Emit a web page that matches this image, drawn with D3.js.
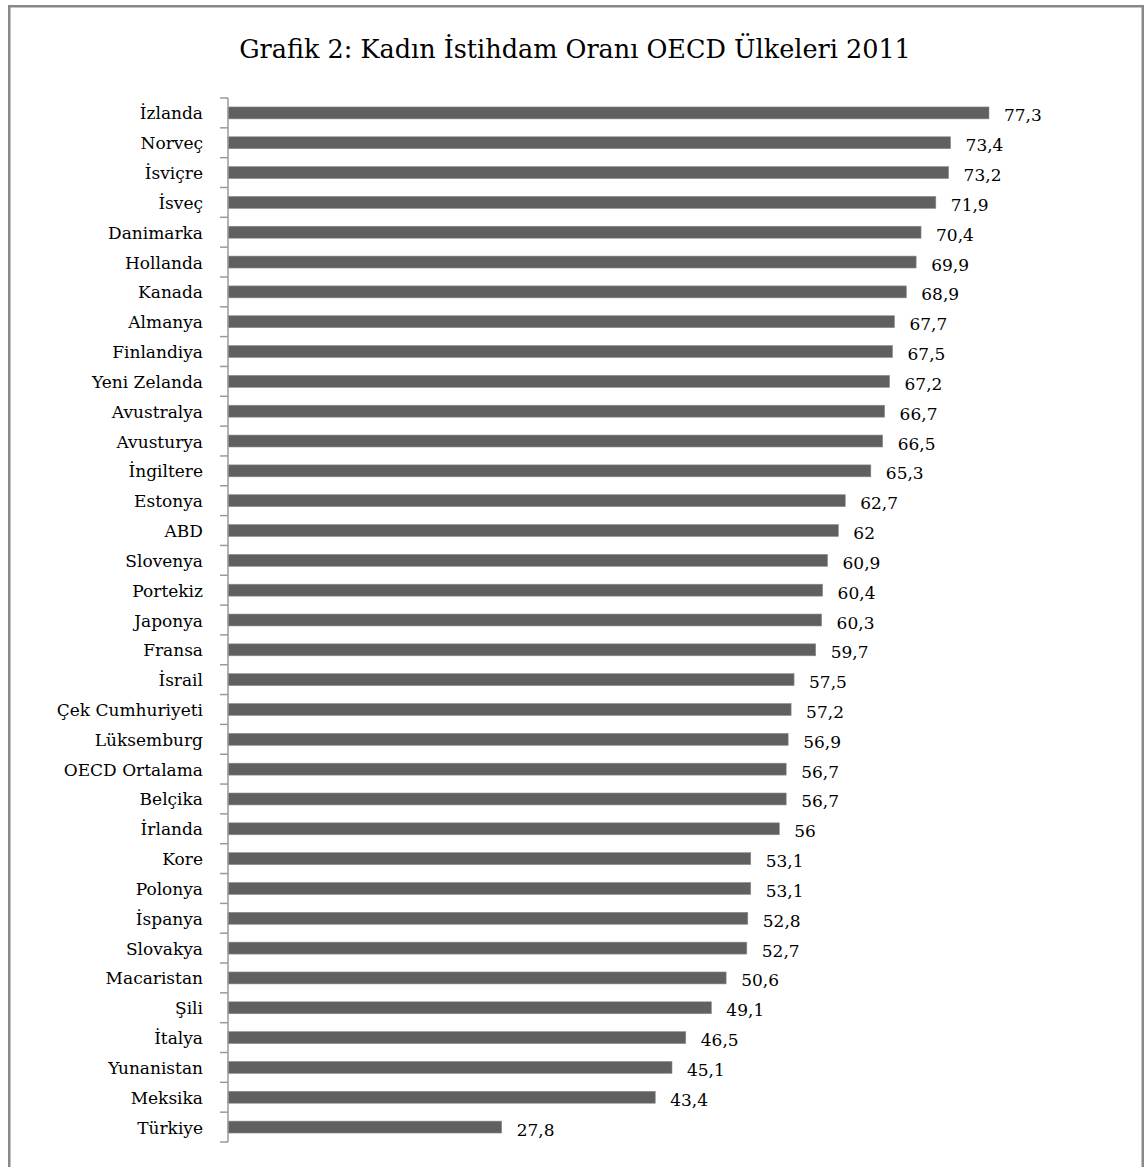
<!DOCTYPE html>
<html>
<head>
<meta charset="utf-8">
<script src="https://cdn.jsdelivr.net/npm/d3@7"></script>
<style>
  html, body { margin: 0; padding: 0; background: #fff; }
  svg { display: block; }
</style>
</head>
<body>
<svg id="chart" width="1145" height="1167"></svg>
<script>
const title = "Grafik 2: Kadın İstihdam Oranı OECD Ülkeleri 2011";
const countries = ["İzlanda","Norveç","İsviçre","İsveç","Danimarka","Hollanda","Kanada","Almanya","Finlandiya","Yeni Zelanda","Avustralya","Avusturya","İngiltere","Estonya","ABD","Slovenya","Portekiz","Japonya","Fransa","İsrail","Çek Cumhuriyeti","Lüksemburg","OECD Ortalama","Belçika","İrlanda","Kore","Polonya","İspanya","Slovakya","Macaristan","Şili","İtalya","Yunanistan","Meksika","Türkiye"];
const values = [77.3,73.4,73.2,71.9,70.4,69.9,68.9,67.7,67.5,67.2,66.7,66.5,65.3,62.7,62,60.9,60.4,60.3,59.7,57.5,57.2,56.9,56.7,56.7,56,53.1,53.1,52.8,52.7,50.6,49.1,46.5,45.1,43.4,27.8];
const valueLabels = ["77,3","73,4","73,2","71,9","70,4","69,9","68,9","67,7","67,5","67,2","66,7","66,5","65,3","62,7","62","60,9","60,4","60,3","59,7","57,5","57,2","56,9","56,7","56,7","56","53,1","53,1","52,8","52,7","50,6","49,1","46,5","45,1","43,4","27,8"];

const W = 1145, H = 1167;
const svg = d3.select("#chart");
const FONT = "'DejaVu Serif', 'Liberation Serif', serif";

// outer frame
svg.append("rect")
  .attr("x", 9.25).attr("y", 6.25)
  .attr("width", 1133.5).attr("height", 1175)
  .attr("fill", "#fff").attr("stroke", "#888").attr("stroke-width", 2.5);

// title
const t = svg.append("text")
  .attr("x", 575).attr("y", 58)
  .attr("text-anchor", "middle")
  .attr("font-family", FONT)
  .attr("font-size", 25)
  .attr("fill", "#000")
  .text(title);
// fit title width to reference
const tw = t.node().getComputedTextLength();
t.attr("font-size", 25 * 672 / tw);

const x = d3.scaleLinear().domain([0, 90]).range([228, 1114]);
const data = countries.map((c, i) => ({c, v: values[i], l: valueLabels[i]}));
const y = d3.scaleBand().domain(countries).range([98, 1142])
  .paddingInner(0.6).paddingOuter(0.3);

// bars
svg.append("g").selectAll("rect").data(data).join("rect")
  .attr("x", x(0))
  .attr("y", d => y(d.c))
  .attr("width", d => x(d.v) - x(0))
  .attr("height", y.bandwidth())
  .attr("fill", "#606060")
  .attr("stroke", "#8c8c8c")
  .attr("stroke-width", 0.6);

// axis line with ticks at band boundaries
const axisG = svg.append("g");
axisG.append("line")
  .attr("x1", 228).attr("x2", 228)
  .attr("y1", 98).attr("y2", 1142)
  .attr("stroke", "#9a9a9a").attr("stroke-width", 1.5);
const bounds = d3.range(countries.length + 1).map(i => 98 + i * y.step());
axisG.selectAll("line.tick").data(bounds).join("line")
  .attr("class", "tick")
  .attr("x1", 220).attr("x2", 228)
  .attr("y1", d => d).attr("y2", d => d)
  .attr("stroke", "#9a9a9a").attr("stroke-width", 1.5);

// category labels
svg.append("g").selectAll("text").data(data).join("text")
  .attr("x", 203)
  .attr("y", d => y(d.c) + y.bandwidth() / 2 + 6.5)
  .attr("text-anchor", "end")
  .attr("font-family", FONT)
  .attr("font-size", 17)
  .attr("fill", "#000")
  .text(d => d.c);

// value labels
svg.append("g").selectAll("text").data(data).join("text")
  .attr("x", d => x(d.v) + 15)
  .attr("y", d => y(d.c) + y.bandwidth() / 2 + 8.5)
  .attr("font-family", FONT)
  .attr("font-size", 17)
  .attr("fill", "#000")
  .text(d => d.l);
</script>
</body>
</html>
